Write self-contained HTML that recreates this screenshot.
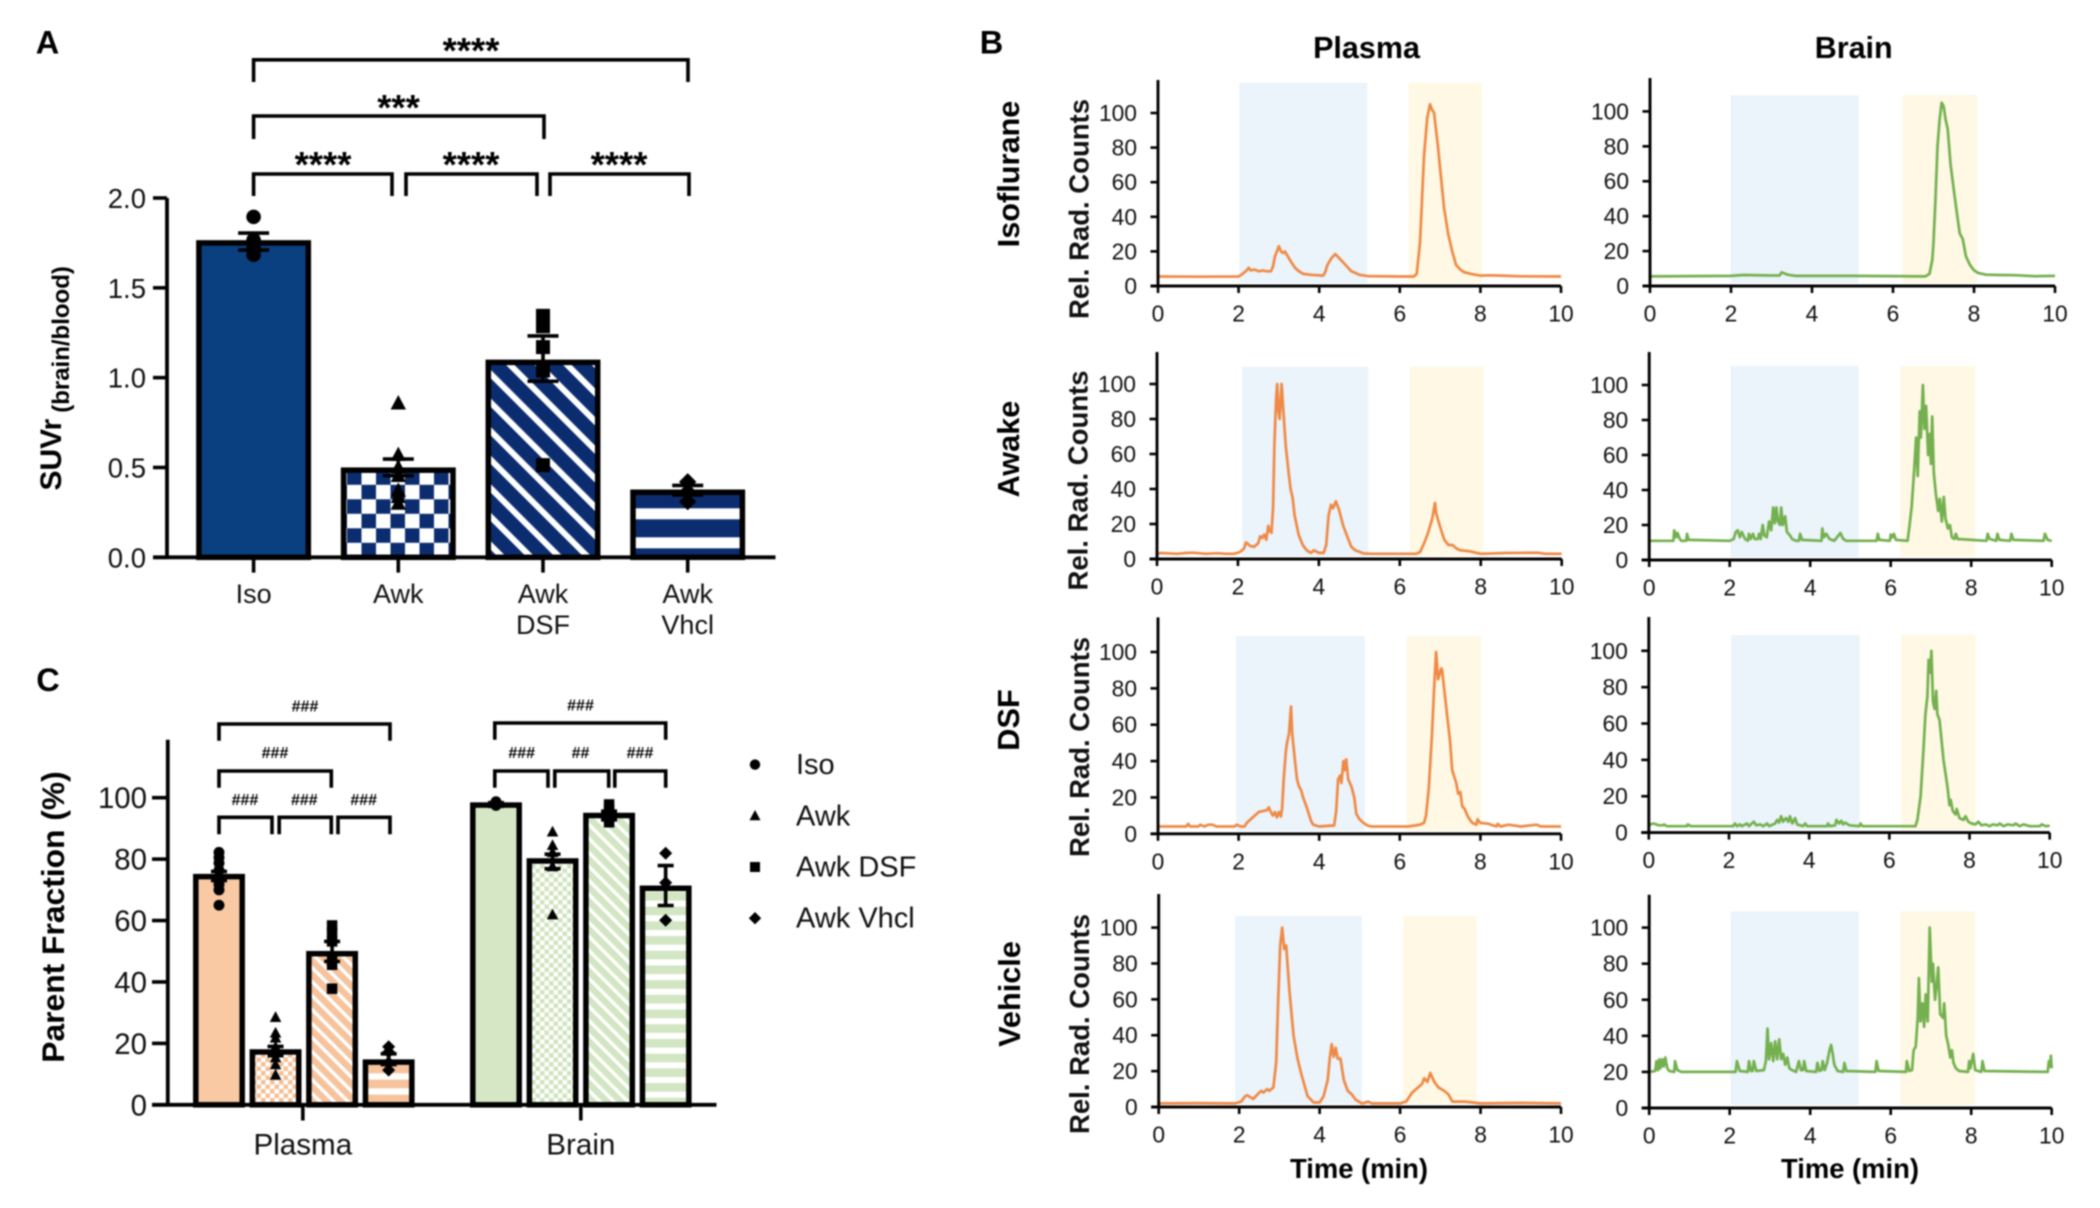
<!DOCTYPE html>
<html lang="en">
<head>
<meta charset="utf-8">
<title>SUVr, radio-HPLC traces and parent fraction</title>
<style>
html,body{margin:0;padding:0;background:#fff;}
#figure{display:block;width:2100px;height:1208px;filter:blur(.7px);font-family:"Liberation Sans",Arial,sans-serif;fill:#111;}
.bk{fill:none;stroke:#000;stroke-width:3.6;}
.star{font-weight:700;font-size:36.5px;text-anchor:middle;fill:#000;}
.hash{font-weight:700;font-size:16px;text-anchor:middle;fill:#000;}
.panel{font-weight:700;font-size:32.5px;fill:#000;text-anchor:middle;}
.head{font-weight:700;font-size:30.5px;fill:#000;text-anchor:middle;}
.rowlab{font-weight:700;font-size:30.7px;fill:#000;text-anchor:middle;}
.ytitle{font-weight:700;font-size:27.5px;fill:#111;text-anchor:middle;}
.xtitle{font-weight:700;font-size:27.4px;fill:#000;text-anchor:middle;}
</style>
</head>
<body>
<svg id="figure" xmlns="http://www.w3.org/2000/svg" width="2100" height="1208" viewBox="0 0 2100 1208">
<defs>
<pattern id="a-check" patternUnits="userSpaceOnUse" width="29" height="29" patternTransform="translate(347 528.3)"><rect width="29" height="29" fill="#fff"/><rect width="14.5" height="14.5" fill="#0b2d6f"/><rect x="14.5" y="14.5" width="14.5" height="14.5" fill="#0b2d6f"/></pattern>
<pattern id="a-diag" patternUnits="userSpaceOnUse" width="20.2" height="20.2" patternTransform="rotate(-45) translate(-1.3 0)"><rect width="20.2" height="20.2" fill="#0b2d6f"/><rect width="6" height="20.2" fill="#fff"/></pattern>
<pattern id="a-horiz" patternUnits="userSpaceOnUse" width="29" height="29" patternTransform="translate(0 508.3)"><rect width="29" height="29" fill="#0b2d6f"/><rect width="29" height="11" fill="#fff"/></pattern>
<pattern id="o-check" patternUnits="userSpaceOnUse" width="9" height="9"><rect width="9" height="9" fill="#fff"/><rect width="4.5" height="4.5" fill="#f6bf94"/><rect x="4.5" y="4.5" width="4.5" height="4.5" fill="#f6bf94"/></pattern>
<pattern id="o-diag" patternUnits="userSpaceOnUse" width="9.9" height="9.9" patternTransform="rotate(-45)"><rect width="9.9" height="9.9" fill="#f6c39c"/><rect width="3.4" height="9.9" fill="#fff"/></pattern>
<pattern id="o-horiz" patternUnits="userSpaceOnUse" width="15" height="15" patternTransform="translate(0 1073.3)"><rect width="15" height="15" fill="#f6c39c"/><rect width="15" height="6.3" fill="#fff"/></pattern>
<pattern id="g-check" patternUnits="userSpaceOnUse" width="9" height="9"><rect width="9" height="9" fill="#fff"/><rect width="4.5" height="4.5" fill="#cfe4bd"/><rect x="4.5" y="4.5" width="4.5" height="4.5" fill="#cfe4bd"/></pattern>
<pattern id="g-diag" patternUnits="userSpaceOnUse" width="9.9" height="9.9" patternTransform="rotate(-45)"><rect width="9.9" height="9.9" fill="#d3e6c3"/><rect width="3.4" height="9.9" fill="#fff"/></pattern>
<pattern id="g-horiz" patternUnits="userSpaceOnUse" width="14.7" height="14.7" patternTransform="translate(0 930)"><rect width="14.7" height="14.7" fill="#d3e6c3"/><rect width="14.7" height="6" fill="#fff"/></pattern>
</defs>

<!-- panel letters and headings -->
<text class="panel" x="47.5" y="53.5">A</text>
<text class="panel" x="991.5" y="53.5">B</text>
<text class="panel" x="48" y="691">C</text>
<text class="head" x="1366.5" y="58">Plasma</text>
<text class="head" x="1853.7" y="58">Brain</text>
<text class="rowlab" transform="translate(1019 174) rotate(-90)">Isoflurane</text>
<text class="rowlab" transform="translate(1019 449) rotate(-90)">Awake</text>
<text class="rowlab" transform="translate(1019 720) rotate(-90)">DSF</text>
<text class="rowlab" transform="translate(1020 994) rotate(-90)">Vehicle</text>
<text class="ytitle" transform="translate(1088.5 209) rotate(-90)">Rel. Rad. Counts</text>
<text class="ytitle" transform="translate(1087.5 480.5) rotate(-90)">Rel. Rad. Counts</text>
<text class="ytitle" transform="translate(1089 747) rotate(-90)">Rel. Rad. Counts</text>
<text class="ytitle" transform="translate(1089 1024) rotate(-90)">Rel. Rad. Counts</text>
<text class="xtitle" x="1359" y="1178">Time (min)</text>
<text class="xtitle" x="1850" y="1178">Time (min)</text>

<!-- panel A annotations -->
<text transform="translate(61 490.5) rotate(-90)" font-weight="700" fill="#000"><tspan font-size="30">SUVr</tspan><tspan font-size="24" dx="6" dy="8">(brain/blood)</tspan></text>
<path class="bk" d="M253.6 82V59.8H688V82"/>
<path class="bk" d="M253.6 139V116H544V139"/>
<path class="bk" d="M253.6 196V174H392V196"/>
<path class="bk" d="M406 196V174H537V196"/>
<path class="bk" d="M550 196V174H689V196"/>
<text class="star" x="471" y="63">****</text>
<text class="star" x="398.5" y="120">***</text>
<text class="star" x="323" y="177">****</text>
<text class="star" x="471" y="177">****</text>
<text class="star" x="619" y="177">****</text>

<!-- panel C annotations -->
<text transform="translate(64 917) rotate(-90)" font-weight="700" font-size="31.8" text-anchor="middle" fill="#000">Parent Fraction (%)</text>
<path class="bk" d="M219 740.7V724H390V740.7"/>
<path class="bk" d="M219 787.7V771H331.3V787.7"/>
<path class="bk" d="M219 834.3V817.3H272V834.3"/>
<path class="bk" d="M279.2 834.3V817.3H331.3V834.3"/>
<path class="bk" d="M338 834.3V817.3H390V834.3"/>
<path class="bk" d="M494.8 739.7V723H665.7V739.7"/>
<path class="bk" d="M494.8 787.7V771H548V787.7"/>
<path class="bk" d="M554.8 787.7V771H608.7V787.7"/>
<path class="bk" d="M614.8 787.7V771H665.7V787.7"/>
<text class="hash" x="305" y="711.5">###</text>
<text class="hash" x="275" y="758">###</text>
<text class="hash" x="245" y="805">###</text>
<text class="hash" x="304.3" y="805">###</text>
<text class="hash" x="363.7" y="805">###</text>
<text class="hash" x="580.5" y="710.5">###</text>
<text class="hash" x="521.7" y="758">###</text>
<text class="hash" x="580.5" y="758">##</text>
<text class="hash" x="640" y="758">###</text>

<g id="plot-a"></g>
<g id="plot-c"></g>
<g id="plot-b"></g>
</svg>

<script>
// ---------- Panel A data ----------
const suvrCategories = [["Iso"], ["Awk"], ["Awk", "DSF"], ["Awk", "Vhcl"]];
const suvrMeans = [1.75, 0.485, 1.085, 0.362];
const suvrErrorLow = [1.71, 0.454, 0.98, 0.347];
const suvrErrorHigh = [1.805, 0.547, 1.232, 0.40];
const suvrPointsIso = [1.895, 1.766, 1.73, 1.684];
const suvrPointsAwk = [0.858, 0.571, 0.50, 0.454, 0.372, 0.337, 0.30];
const suvrPointsDsf = [1.344, 1.286, 1.17, 1.04, 0.513];
const suvrPointsVhcl = [0.42, 0.365, 0.31];
const suvrTicks = [0, 0.5, 1.0, 1.5, 2.0];

// ---------- Panel C data ----------
const fractionGroups = ["Plasma", "Brain"];
const fractionLegend = ["Iso", "Awk", "Awk DSF", "Awk Vhcl"];
const fractionTicks = [0, 20, 40, 60, 80, 100];
const plasmaMeans = [74.3, 17.2, 49.2, 13.9];
const brainMeans = [97.6, 79.4, 94.2, 70.5];
const plasmaErrorLow = [73, 16, 46.7, 13.1];
const plasmaErrorHigh = [76, 19, 53.2, 16.6];
const brainErrorLow = [97.2, 76.9, 92.8, 64.9];
const brainErrorHigh = [98.4, 81.6, 95.6, 77.9];
const plasmaPointsIso = [82.2, 80.5, 78.7, 76.4, 73.5, 71.7, 70, 65];
const plasmaPointsAwk = [28.5, 23.4, 21.8, 18.9, 15.4, 13.1, 9.7];
const plasmaPointsDsf = [58.4, 56, 53.2, 47.4, 45.6, 37.8];
const plasmaPointsVhcl = [18.9, 17.2, 13.7, 11.3];
const brainPointsIso = [98.7, 98, 97.5];
const brainPointsAwk = [88.9, 84.5, 82.2, 77.6, 61.9];
const brainPointsDsf = [97.8, 96, 93.8, 92];
const brainPointsVhcl = [81.9, 72.3, 60.1];

// ---------- Panel B data ----------
const timeTicks = [0, 2, 4, 6, 8, 10];
const countTicks = [0, 20, 40, 60, 80, 100];
const plasmaIsoTrace = [[0,5.5],[1,5.4],[2,5.5],[2.1,7],[2.2,9],[2.25,10.5],[2.3,9],[2.4,9.5],[2.5,8.5],[2.6,9],[2.7,8.5],[2.8,8.5],[2.85,11],[2.9,17],[2.95,20],[3,23],[3.05,20],[3.1,19],[3.15,20],[3.2,18],[3.3,14],[3.4,10.5],[3.5,8.5],[3.6,7],[3.8,6.5],[4.1,6],[4.15,8],[4.2,12],[4.3,16],[4.4,18.5],[4.5,16],[4.6,13.5],[4.7,11],[4.8,8.5],[4.9,7.5],[5,6.5],[5.2,5.7],[6,5.5],[6.35,5.5],[6.42,7],[6.5,25],[6.55,50],[6.6,75],[6.68,97],[6.75,105],[6.8,102],[6.85,100],[6.95,80],[7,68],[7.1,45],[7.2,30],[7.3,20],[7.4,12],[7.5,9.5],[7.6,8],[7.8,6.8],[8,6],[8.2,6.2],[8.5,6],[9,5.6],[10,5.5]];
const plasmaAwakeTrace = [[0,3],[.1,3.4],[.5,3],[.7,3.4],[.9,3.6],[1.2,3],[1.5,3.3],[1.7,3],[1.9,3],[2.05,4],[2.15,6],[2.2,9.5],[2.3,7.5],[2.4,7],[2.5,9],[2.55,13],[2.6,12],[2.65,14],[2.7,11],[2.75,19],[2.78,16],[2.83,15],[2.87,30],[2.9,65],[2.94,90],[2.97,100],[3,85],[3.03,80],[3.08,100],[3.12,85],[3.18,65],[3.25,50],[3.3,40],[3.35,35],[3.4,25],[3.5,14],[3.6,8],[3.7,5],[3.8,3.5],[3.88,5],[4,3.5],[4.12,3.5],[4.18,8],[4.24,25],[4.3,31],[4.35,29],[4.42,33],[4.5,28],[4.6,19],[4.7,13],[4.8,7],[4.9,5],[5.1,3.2],[5.3,3],[6.4,3],[6.5,4],[6.6,9],[6.7,15],[6.8,23],[6.87,32],[6.9,26],[7,18],[7.1,11],[7.2,8],[7.3,8],[7.4,6],[7.5,5],[7.7,4.5],[8,3],[8.6,3.4],[9.4,3.6],[9.6,3],[10,3]];
const plasmaDsfTrace = [[0,4],[.7,4],[.75,5.5],[.8,4],[1,4],[1.05,5],[1.15,4],[1.25,5],[1.35,5],[1.45,4],[1.9,4],[1.95,5],[2.05,4],[2.15,4],[2.2,6],[2.3,8],[2.4,10],[2.5,12],[2.6,12.5],[2.7,13],[2.75,14.5],[2.8,12],[2.85,10],[2.9,12],[2.95,9],[3,12],[3.05,9.5],[3.08,14],[3.12,30],[3.17,45],[3.2,50],[3.25,55],[3.3,70],[3.33,55],[3.4,40],[3.45,30],[3.5,26],[3.55,24],[3.6,20],[3.7,14],[3.8,7],[3.85,5],[4,4],[4.3,4.5],[4.37,4.5],[4.42,12],[4.47,30],[4.52,32],[4.55,28],[4.6,40],[4.63,35],[4.67,41],[4.72,30],[4.8,26],[4.87,20],[4.92,11],[5,8],[5.1,6],[5.2,4.5],[5.3,4],[6.2,4],[6.5,5],[6.6,6],[6.65,10],[6.72,25],[6.8,55],[6.85,80],[6.9,100],[6.95,85],[7.03,91],[7.05,90],[7.1,80],[7.2,60],[7.25,50],[7.3,35],[7.4,28],[7.45,22],[7.5,23],[7.55,15],[7.6,14],[7.7,9],[7.8,6],[7.9,5],[7.93,8],[8,6],[8.2,5.5],[8.4,4],[8.43,5.5],[8.5,4],[8.7,5],[9,4],[9.4,5],[9.5,4],[10,4]];
const plasmaVehicleTrace = [[0,2],[1,2.2],[1.9,2],[2.05,3],[2.15,6],[2.2,6.5],[2.35,4.5],[2.5,8],[2.55,9],[2.6,8],[2.7,10],[2.75,9],[2.85,11],[2.92,25],[2.97,60],[3.02,90],[3.07,100],[3.12,88],[3.17,90],[3.25,65],[3.35,40],[3.45,27],[3.55,18],[3.7,6],[3.85,2.5],[4,2.5],[4.1,6],[4.2,15],[4.25,27],[4.3,35],[4.35,28],[4.4,33],[4.45,27],[4.52,27],[4.6,15],[4.7,9],[4.8,7],[4.9,4],[5.05,2],[5.15,2.5],[5.2,3],[5.3,2],[6,2],[6.15,3],[6.3,8],[6.45,11],[6.55,13],[6.6,16],[6.68,14],[6.75,19],[6.85,14],[6.95,11],[7.1,9],[7.2,7],[7.3,3],[7.6,3],[7.8,2.5],[8,2],[9,2.3],[10,2]];
const brainIsoTrace = [[0,5.5],[2,5.8],[2.3,6.3],[3,6],[3.2,6],[3.25,7.8],[3.4,6.5],[3.6,5.8],[5,5.8],[6.8,5.5],[6.9,7],[6.97,15],[7,25],[7.05,50],[7.1,80],[7.15,95],[7.2,105],[7.25,103],[7.3,95],[7.35,90],[7.42,70],[7.5,55],[7.6,38],[7.65,30],[7.72,27],[7.8,17],[7.9,12],[8,9],[8.1,7.5],[8.3,6.5],[8.6,6.3],[9,6.2],[9.5,5.6],[10,5.8]];
const brainAwakeTrace = [[0,11],[.6,11],[.62,17],[.67,13],[.7,15.5],[.76,12],[.8,11],[.92,11],[.94,15],[.98,11.5],[2,11],[2.1,12],[2.15,16],[2.2,17],[2.25,13],[2.3,16],[2.38,12],[2.45,11],[2.48,15],[2.52,12],[2.58,15],[2.62,12],[2.7,12],[2.73,15],[2.77,12],[2.82,20],[2.86,14],[2.92,13],[2.98,22],[3.03,17],[3.08,30],[3.12,21],[3.16,30],[3.2,22],[3.25,20],[3.28,30],[3.32,20],[3.38,25],[3.42,16],[3.5,14],[3.55,12],[3.65,11],[3.72,11],[3.75,15],[3.8,11.5],[4.28,11],[4.3,18],[4.34,13],[4.4,15],[4.48,12],[4.6,11],[4.7,14],[4.75,15.5],[4.82,12],[4.9,11],[5.65,11],[5.68,15],[5.72,11.5],[5.98,11],[6,14.5],[6.04,13],[6.08,15],[6.13,11.5],[6.42,11],[6.47,20],[6.52,30],[6.58,50],[6.63,70],[6.67,48],[6.72,85],[6.75,70],[6.8,100],[6.84,75],[6.88,88],[6.93,60],[6.97,72],[7,55],[7.03,82],[7.07,50],[7.12,38],[7.18,28],[7.22,35],[7.27,22],[7.32,36],[7.36,24],[7.42,18],[7.47,20],[7.52,13],[7.58,12],[7.62,15],[7.66,12],[8.38,11],[8.41,15],[8.46,12],[8.62,11],[8.65,15],[8.7,11.5],[8.97,11],[9,15],[9.05,11.5],[9.8,11],[9.83,15],[9.9,11.5],[10,11]];
const brainDsfTrace = [[0,3.5],[.03,4.5],[.12,5],[.25,4],[.35,4],[.38,4.5],[.45,3.5],[.95,3.5],[.97,4.5],[1.05,3.5],[2.1,3.5],[2.15,5],[2.2,3.5],[2.27,4.5],[2.32,3.5],[2.45,5],[2.5,3.5],[2.62,6],[2.68,4],[2.78,4.5],[2.85,3.5],[2.95,5],[3,3.5],[3.15,5],[3.2,7],[3.25,5.5],[3.3,9],[3.35,6],[3.42,8],[3.48,6],[3.52,9],[3.58,5],[3.65,8],[3.7,4.5],[3.85,3.5],[3.9,5],[3.95,3.5],[4.45,3.5],[4.47,5],[4.52,3.5],[4.65,4],[4.68,7],[4.75,5],[4.8,6.5],[4.85,4.5],[4.9,5.5],[5,4],[5.25,3.5],[5.28,5],[5.33,3.5],[6.65,3.5],[6.7,7],[6.78,20],[6.85,45],[6.9,65],[6.95,75],[6.98,95],[7.02,88],[7.05,100],[7.09,72],[7.13,68],[7.17,78],[7.2,65],[7.25,62],[7.35,40],[7.45,25],[7.5,15],[7.53,18],[7.58,12],[7.65,10],[7.68,13],[7.75,8],[7.85,7],[7.9,9],[7.97,6],[8.05,5],[8.15,4.5],[8.22,6],[8.3,4],[8.4,4.5],[8.5,3.5],[8.58,4.5],[8.7,4],[8.75,5],[8.85,3.5],[8.95,4.5],[9.1,4],[9.15,5],[9.25,3.5],[9.35,4.5],[9.5,3.5],[9.75,3.5],[9.8,4.5],[9.9,3.5],[10,3.8]];
const brainVehicleTrace = [[0,20],[.15,20.5],[.18,26],[.22,21],[.25,27],[.28,22],[.32,27],[.36,23],[.4,28],[.45,22],[.5,20.5],[.62,20],[.64,26],[.7,21],[.8,20],[2.15,20],[2.18,26],[2.25,20.5],[2.45,20],[2.48,26],[2.53,20.5],[2.57,20.5],[2.6,26],[2.66,20.5],[2.85,21],[2.9,26],[2.94,44],[2.98,27],[3.03,36],[3.08,26],[3.13,37],[3.18,27],[3.23,38],[3.28,27],[3.33,30],[3.38,24],[3.43,28],[3.48,22],[3.55,21],[3.65,20],[3.72,26],[3.77,21],[3.82,21],[3.85,26],[3.9,20.5],[4.15,20],[4.18,25],[4.23,20.5],[4.28,21],[4.31,26],[4.36,21],[4.42,25],[4.48,32],[4.52,35],[4.56,30],[4.6,24],[4.68,20.5],[4.82,20],[4.85,25],[4.9,20.5],[5.62,20],[5.65,26],[5.7,20.5],[6.38,20],[6.4,26],[6.46,20.5],[6.53,21],[6.57,32],[6.62,34],[6.67,50],[6.7,72],[6.74,48],[6.79,58],[6.83,45],[6.87,63],[6.92,48],[6.97,100],[7.02,70],[7.05,80],[7.1,60],[7.15,70],[7.18,78],[7.23,52],[7.3,50],[7.33,58],[7.38,40],[7.43,35],[7.48,28],[7.52,32],[7.56,25],[7.62,22],[7.7,20.5],[7.92,20],[7.95,26],[7.98,22],[8.05,30],[8.1,21],[8.25,20],[8.28,26],[8.33,20.5],[9.9,20],[9.93,26],[9.96,23],[9.98,29],[10,22]];
const plasmaIsoBlueBand = [2.02, 5.19];
const plasmaIsoYellowBand = [6.22, 8.04];
const plasmaAwakeBlueBand = [2.10, 5.22];
const plasmaAwakeYellowBand = [6.25, 8.06];
const plasmaDsfBlueBand = [1.94, 5.13];
const plasmaDsfYellowBand = [6.17, 8.02];
const plasmaVehicleBlueBand = [1.90, 5.05];
const plasmaVehicleYellowBand = [6.08, 7.90];
const brainIsoBlueBand = [1.99, 5.15];
const brainIsoYellowBand = [6.23, 8.08];
const brainAwakeBlueBand = [2.02, 5.20];
const brainAwakeYellowBand = [6.24, 8.10];
const brainDsfBlueBand = [2.06, 5.26];
const brainDsfYellowBand = [6.30, 8.15];
const brainVehicleBlueBand = [2.02, 5.20];
const brainVehicleYellowBand = [6.24, 8.10];

// ---------- helpers ----------
const NS = "http://www.w3.org/2000/svg";
function make(tag, attrs, parent, text) {
  const node = document.createElementNS(NS, tag);
  for (const k in attrs) node.setAttribute(k, attrs[k]);
  if (text !== undefined) node.textContent = text;
  parent.appendChild(node);
  return node;
}
function markerNode(shape, x, y, size, parent) {
  const s = size;
  if (shape === 0) return make("circle", { cx: x, cy: y, r: s * 0.52, fill: "#000" }, parent);
  if (shape === 1) return make("path", { d: "M" + x + " " + (y - s * 0.58) + "L" + (x + s * 0.55) + " " + (y + s * 0.45) + "H" + (x - s * 0.55) + "Z", fill: "#000" }, parent);
  if (shape === 2) return make("rect", { x: x - s / 2, y: y - s / 2, width: s, height: s, fill: "#000" }, parent);
  return make("path", { d: "M" + x + " " + (y - s * 0.62) + "L" + (x + s * 0.62) + " " + y + "L" + x + " " + (y + s * 0.62) + "L" + (x - s * 0.62) + " " + y + "Z", fill: "#000" }, parent);
}
const shapeNames = ["circle", "triangle", "square", "diamond"];

// ---------- Panel A ----------
(function () {
  const g = document.getElementById("plot-a");
  const yA = v => 557.3 - v * 179.65;
  const xA = i => 253.6 + i * 144.7;
  const barHalf = 54.7;
  const fills = ["#0a3f80", "url(#a-check)", "url(#a-diag)", "url(#a-horiz)"];
  const pointSets = [suvrPointsIso, suvrPointsAwk, suvrPointsDsf, suvrPointsVhcl];
  const names = ["iso", "awk", "awk-dsf", "awk-vhcl"];
  suvrMeans.forEach((v, i) => {
    const bar = make("rect", { x: xA(i) - barHalf, y: yA(v), width: barHalf * 2, height: yA(0) - yA(v), fill: fills[i], stroke: "#000", "stroke-width": 5.5 }, g);
    
    
  });
  const yAxis = make("path", { d: "M167 " + yA(2) + "V" + yA(0), fill: "none", stroke: "#000", "stroke-width": 3.8 }, g);
  
  
  const xAxis = make("path", { d: "M153 " + yA(0) + "H775.5", fill: "none", stroke: "#000", "stroke-width": 3.8 }, g);
  
  
  suvrTicks.forEach(t => {
    const tick = make("path", { d: "M153 " + yA(t) + "H167", stroke: "#000", "stroke-width": 3.6, fill: "none" }, g);
    
    
    const lab = make("text", { x: 146, y: yA(t) + 10, "font-size": 27.5, "text-anchor": "end" }, g, t.toFixed(1));
    
    
  });
  suvrCategories.forEach((lines, i) => {
    const tick = make("path", { d: "M" + xA(i) + " " + yA(0) + "V572.6", stroke: "#000", "stroke-width": 3.6, fill: "none" }, g);
    
    
    lines.forEach((s, k) => {
      const lab = make("text", { x: xA(i), y: 603 + k * 31, "font-size": 27, "text-anchor": "middle" }, g, s);
      
      
    });
  });
  suvrMeans.forEach((v, i) => {
    pointSets[i].forEach(p => {
      const pt = markerNode(i, xA(i), yA(p), 14, g);
      
      
    });
    const hw = 15.5, x = xA(i), lo = yA(suvrErrorLow[i]), hi = yA(suvrErrorHigh[i]);
    const err = make("path", { d: "M" + x + " " + lo + "V" + hi + "M" + (x - hw) + " " + hi + "H" + (x + hw) + "M" + (x - hw) + " " + lo + "H" + (x + hw), fill: "none", stroke: "#000", "stroke-width": 3.6 }, g);
    
    
  });
})();

// ---------- Panel C ----------
(function () {
  const g = document.getElementById("plot-c");
  const yC = v => 1104.8 - v * 3.071;
  const groupStart = [219, 496];
  const xC = (gi, i) => groupStart[gi] + i * 56.55;
  const barHalf = 23.2;
  const meanSets = [plasmaMeans, brainMeans];
  const lowSets = [plasmaErrorLow, brainErrorLow];
  const highSets = [plasmaErrorHigh, brainErrorHigh];
  const pointSets = [[plasmaPointsIso, plasmaPointsAwk, plasmaPointsDsf, plasmaPointsVhcl], [brainPointsIso, brainPointsAwk, brainPointsDsf, brainPointsVhcl]];
  const fillSets = [["#f8c9a3", "url(#o-check)", "url(#o-diag)", "url(#o-horiz)"], ["#d5e7c5", "url(#g-check)", "url(#g-diag)", "url(#g-horiz)"]];
  const names = ["iso", "awk", "awk-dsf", "awk-vhcl"];
  meanSets.forEach((means, gi) => means.forEach((v, i) => {
    const bar = make("rect", { x: xC(gi, i) - barHalf, y: yC(v), width: barHalf * 2, height: yC(0) - yC(v), fill: fillSets[gi][i], stroke: "#000", "stroke-width": 5.5 }, g);
    
    
  }));
  const yAxis = make("path", { d: "M167.8 739.7V" + yC(0), fill: "none", stroke: "#000", "stroke-width": 3.8 }, g);
  
  
  const xAxis = make("path", { d: "M152 " + yC(0) + "H716.5", fill: "none", stroke: "#000", "stroke-width": 3.8 }, g);
  
  
  fractionTicks.forEach(t => {
    const tick = make("path", { d: "M152 " + yC(t) + "H167.8", stroke: "#000", "stroke-width": 3.6, fill: "none" }, g);
    
    
    const lab = make("text", { x: 147, y: yC(t) + 10.5, "font-size": 29.4, "text-anchor": "end" }, g, t);
    
    
  });
  const groupCentre = gi => (xC(gi, 0) + xC(gi, 3)) / 2 - (gi === 0 ? 1 : 0);
  fractionGroups.forEach((s, gi) => {
    const cx = groupCentre(gi);
    const tick = make("path", { d: "M" + cx + " " + yC(0) + "V1120.5", stroke: "#000", "stroke-width": 3.6, fill: "none" }, g);
    
    
    const lab = make("text", { x: cx, y: 1154.3, "font-size": 29.6, "text-anchor": "middle" }, g, s);
    
    
  });
  meanSets.forEach((means, gi) => means.forEach((v, i) => {
    pointSets[gi][i].forEach(p => {
      const pt = markerNode(i, xC(gi, i), yC(p), 10.5, g);
      
      
    });
    const hw = 8, x = xC(gi, i), lo = yC(lowSets[gi][i]), hi = yC(highSets[gi][i]);
    const err = make("path", { d: "M" + x + " " + lo + "V" + hi + "M" + (x - hw) + " " + hi + "H" + (x + hw) + "M" + (x - hw) + " " + lo + "H" + (x + hw), fill: "none", stroke: "#000", "stroke-width": 3.6 }, g);
    
    
  }));
  fractionLegend.forEach((s, i) => {
    const yy = 764.6 + i * 51.2;
    const m = markerNode(i, 755, yy, 10, g);
    
    
    const t = make("text", { x: 796, y: yy + 9.5, "font-size": 29 }, g, s);
    
    
  });
})();

// ---------- Panel B ----------
function drawChromatogram(name, trace, blue, yellow, colour, left, right, y0, y100, top, bandTop, labelGap) {
  const g = document.getElementById("plot-b");
  const sx = t => left + (right - left) * t / 10;
  const sy = v => y0 - (y0 - y100) * v / 100;
  const blueRect = make("rect", { x: sx(blue[0]), y: sy(bandTop), width: sx(blue[1]) - sx(blue[0]), height: y0 - 3 - sy(bandTop), fill: "#ebf3fb" }, g);
  
  
  const yellowRect = make("rect", { x: sx(yellow[0]), y: sy(bandTop), width: sx(yellow[1]) - sx(yellow[0]), height: y0 - 3 - sy(bandTop), fill: "#fef8e5" }, g);
  
  
  const line = make("path", { d: "M" + trace.map(p => sx(p[0]).toFixed(1) + " " + sy(p[1]).toFixed(1)).join("L"), fill: "none", stroke: colour, "stroke-width": 2.7, "stroke-linejoin": "round" }, g);
  
  
  const yAxis = make("path", { d: "M" + left + " " + top + "V" + y0, fill: "none", stroke: "#000", "stroke-width": 2.9 }, g);
  
  
  const xAxis = make("path", { d: "M" + (left - 7.5) + " " + y0 + "H" + right, fill: "none", stroke: "#000", "stroke-width": 2.9 }, g);
  
  
  countTicks.forEach(v => {
    const tick = make("path", { d: "M" + (left - 7.5) + " " + sy(v) + "H" + left, stroke: "#000", "stroke-width": 2.6, fill: "none" }, g);
    
    
    const lab = make("text", { x: left - labelGap, y: sy(v) + 8, "font-size": 22.8, "text-anchor": "end" }, g, v);
    
    
  });
  timeTicks.forEach(t => {
    const tick = make("path", { d: "M" + sx(t) + " " + y0 + "V" + (y0 + 7), stroke: "#000", "stroke-width": 2.6, fill: "none" }, g);
    
    
    const lab = make("text", { x: sx(t), y: y0 + 35.5, "font-size": 22.8, "text-anchor": "middle" }, g, t);
    
    
  });
}
const orangeLine = "#ee8a45";
const greenLine = "#74b04f";
drawChromatogram("plasma-isoflurane", plasmaIsoTrace, plasmaIsoBlueBand, plasmaIsoYellowBand, orangeLine, 1158, 1561, 286, 113, 80, 117.5, 21);
drawChromatogram("plasma-awake", plasmaAwakeTrace, plasmaAwakeBlueBand, plasmaAwakeYellowBand, orangeLine, 1157, 1561.7, 559, 384, 352, 109.8, 21);
drawChromatogram("plasma-dsf", plasmaDsfTrace, plasmaDsfBlueBand, plasmaDsfYellowBand, orangeLine, 1158, 1561, 833.8, 652, 617.4, 108.8, 21);
drawChromatogram("plasma-vehicle", plasmaVehicleTrace, plasmaVehicleBlueBand, plasmaVehicleYellowBand, orangeLine, 1158.7, 1561, 1107, 927.6, 894, 106.5, 21);
drawChromatogram("brain-isoflurane", brainIsoTrace, brainIsoBlueBand, brainIsoYellowBand, greenLine, 1650, 2055, 286, 111.4, 78, 109.3, 21);
drawChromatogram("brain-awake", brainAwakeTrace, brainAwakeBlueBand, brainAwakeYellowBand, greenLine, 1649.2, 2051.7, 560, 385, 352, 110.9, 21);
drawChromatogram("brain-dsf", brainDsfTrace, brainDsfBlueBand, brainDsfYellowBand, greenLine, 1648.8, 2049.7, 832.6, 650.8, 617, 108.7, 21);
drawChromatogram("brain-vehicle", brainVehicleTrace, brainVehicleBlueBand, brainVehicleYellowBand, greenLine, 1649.2, 2051.7, 1108, 927.6, 894.7, 109, 21);
</script>
</body>
</html>
